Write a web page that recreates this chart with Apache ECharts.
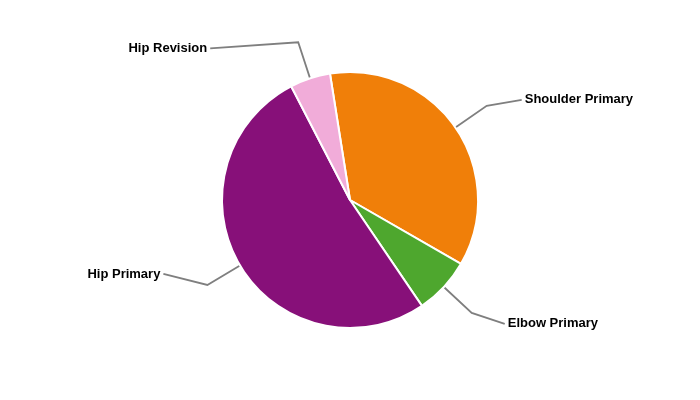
<!DOCTYPE html>
<html>
<head>
<meta charset="utf-8">
<script src="https://cdn.jsdelivr.net/npm/echarts@6/dist/echarts.min.js"></script>
<style>
  html, body { margin: 0; padding: 0; background: #fff; }
  #chart { width: 700px; height: 400px; }
</style>
</head>
<body>
<div id="chart"></div>
<script>
// slices in clockwise order starting just left of 12 o'clock
var categories = ['Shoulder Primary', 'Elbow Primary', 'Hip Primary', 'Hip Revision'];
var values = [35.8, 7.2, 51.9, 5.1];

var colors = ['#F07F09', '#4EA72E', '#871079', '#F1ACD9'];
// leader line tweaks: length of 2nd leg, and vertical tilt of its end
var secondLegs = [35, 33, 44, 88];
var legTilt = [-6, 11, -11, 6];

var chart = echarts.init(document.getElementById('chart'));

var pieData = categories.map(function (name, i) {
  return {
    name: name,
    value: values[i],
    itemStyle: { color: colors[i] },
    labelLine: { length2: secondLegs[i] }
  };
});

chart.setOption({
  animation: false,
  series: [{
    type: 'pie',
    center: [350, 200],
    radius: 128,
    startAngle: 99,
    clockwise: true,
    avoidLabelOverlap: false,
    itemStyle: { borderColor: '#fff', borderWidth: 2 },
    label: {
      show: true,
      position: 'outside',
      formatter: '{b}',
      color: '#000',
      fontFamily: 'Liberation Sans, Arial, sans-serif',
      fontWeight: 'bold',
      fontSize: 13,
      distanceToLabelLine: 3
    },
    labelLine: {
      show: true,
      length: 38,
      smooth: false,
      lineStyle: { color: '#7f7f7f', width: 1.8 }
    },
    labelLayout: function (params) {
      var dy = legTilt[params.dataIndex] || 0;
      var pts = params.labelLinePoints;
      var out = { dy: dy };
      if (pts) {
        out.labelLinePoints = [
          pts[0].slice(),
          pts[1].slice(),
          [pts[2][0], pts[2][1] + dy]
        ];
      }
      return out;
    },
    emphasis: { disabled: true },
    data: pieData
  }]
});
</script>
</body>
</html>
